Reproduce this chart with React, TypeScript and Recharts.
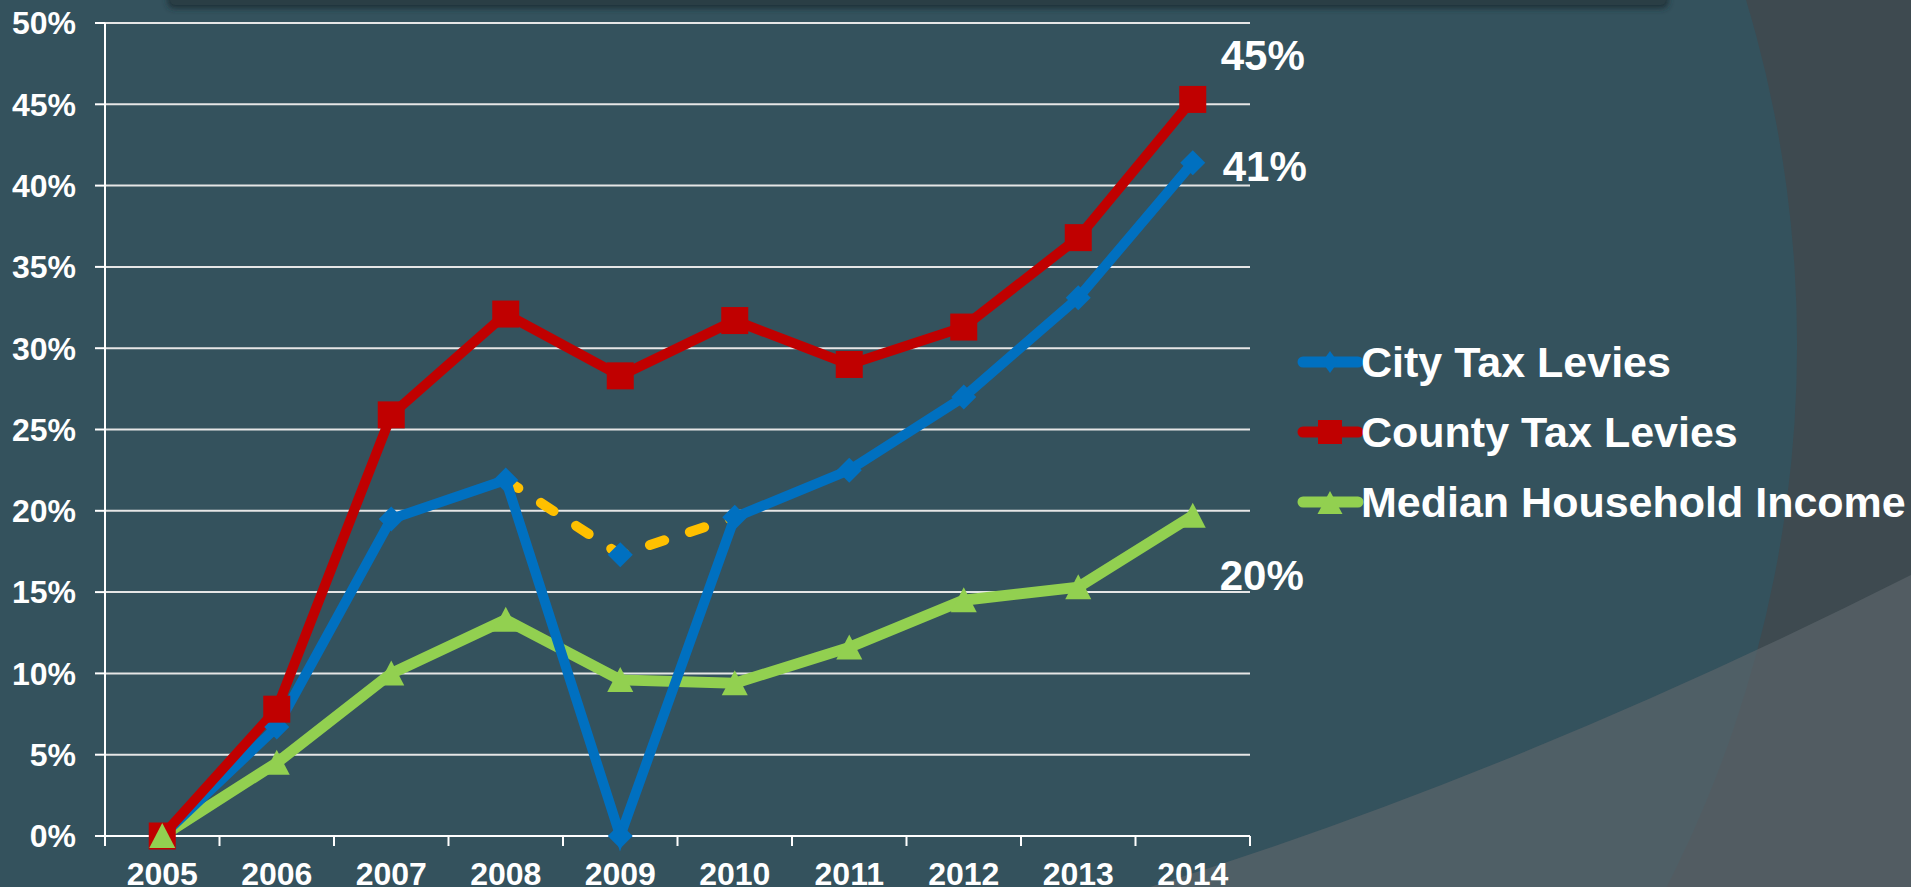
import React from "react";
import { LineChart, Line, XAxis, YAxis, CartesianGrid, Legend, LabelList } from "recharts";

const years = ["2005", "2006", "2007", "2008", "2009", "2010", "2011", "2012", "2013", "2014"];
const cityTax = [0, 6.7, 19.5, 21.9, 0, 19.6, 22.5, 27.0, 33.1, 41.4];
const countyTax = [0, 7.8, 25.9, 32.1, 28.3, 31.7, 29.0, 31.3, 36.8, 45.3];
const medianIncome = [0, 4.5, 10.0, 13.3, 9.6, 9.4, 11.6, 14.5, 15.3, 19.7];
const cityAdjusted = [null, null, null, 21.9, 17.3, 19.6, null, null, null, null];
const yTicks = [0, 5, 10, 15, 20, 25, 30, 35, 40, 45, 50];
const seriesNames = ["City Tax Levies", "County Tax Levies", "Median Household Income"];

const W = 1911;
const H = 887;
const TOP = 23;
const X_AXIS_H = 51;
const Y_AXIS_W = 105;
const RIGHT = 661;
const PLOT_BOTTOM = H - X_AXIS_H;
const BAND = (W - RIGHT - Y_AXIS_W) / years.length;

const BLUE = "#0070C0";
const RED = "#C00000";
const GREEN = "#92D050";
const YELLOW = "#FFC000";
const FONT = "'Liberation Sans', Arial, Helvetica, sans-serif";

const rows = years.map((year, i) => ({
  year,
  city: cityTax[i],
  county: countyTax[i],
  median: medianIncome[i],
  adjusted: cityAdjusted[i],
}));

function diamond(cx: number, cy: number, hw: number, hh: number, fill: string, key?: any) {
  return <path key={key} d={`M${cx},${cy - hh}L${cx + hw},${cy}L${cx},${cy + hh}L${cx - hw},${cy}Z`} fill={fill} />;
}
function square(cx: number, cy: number, s: number, fill: string, key?: any) {
  return <rect key={key} x={cx - s / 2} y={cy - s / 2} width={s} height={s} fill={fill} />;
}
function triangle(cx: number, cy: number, w: number, up: number, down: number, fill: string, key?: any) {
  return <path key={key} d={`M${cx},${cy - up}L${cx + w / 2},${cy + down}L${cx - w / 2},${cy + down}Z`} fill={fill} />;
}

const cityDot = (p: any) => (p.cy == null ? <g key={p.index} /> : diamond(p.cx, p.cy, 12.5, 12.5, BLUE, p.index));
const countyDot = (p: any) => (p.cy == null ? <g key={p.index} /> : square(p.cx, p.cy, 27, RED, p.index));
const medianDot = (p: any) => (p.cy == null ? <g key={p.index} /> : triangle(p.cx, p.cy, 26, 13, 12, GREEN, p.index));
// only the 2009 point of the adjusted segment carries a marker
const adjustedDot = (p: any) =>
  p.cy == null || p.index !== 4 ? <g key={p.index} /> : diamond(p.cx, p.cy, 12.5, 12.5, BLUE, p.index);

function XTick(props: any) {
  const { x, payload, index } = props;
  const half = BAND / 2;
  return (
    <g>
      <line x1={x - half} x2={x - half} y1={PLOT_BOTTOM} y2={PLOT_BOTTOM + 10} stroke="#fff" strokeWidth={2} />
      {index === years.length - 1 && (
        <line x1={x + half} x2={x + half} y1={PLOT_BOTTOM} y2={PLOT_BOTTOM + 10} stroke="#fff" strokeWidth={2} />
      )}
      <text x={x} y={PLOT_BOTTOM + 49} textAnchor="middle" fill="#fff" fontSize={32} fontWeight="bold" fontFamily={FONT}>
        {payload.value}
      </text>
    </g>
  );
}

const endLabel = (dx: number, dy: number) => (props: any) => {
  const { x, y, value, index } = props;
  if (index !== years.length - 1) return null;
  return (
    <text x={x + dx} y={y + dy} fill="#fff" fontSize={42} fontWeight="bold" fontFamily={FONT}>
      {`${Math.round(value)}%`}
    </text>
  );
};

function LegendBox() {
  const colors = [BLUE, RED, GREEN];
  return (
    <svg width={630} height={210}>
      {seriesNames.map((name, i) => {
        const cy = 35 + i * 70;
        return (
          <g key={name}>
            <line x1={8} x2={63} y1={cy} y2={cy} stroke={colors[i]} strokeWidth={11} strokeLinecap="round" />
            {i === 0 && diamond(35, cy, 8, 11, BLUE)}
            {i === 1 && square(35, cy, 24, RED)}
            {i === 2 && triangle(35, cy, 25, 11, 12, GREEN)}
            <text x={66} y={cy + 15} fill="#fff" fontSize={43} fontWeight="bold" fontFamily={FONT}>
              {name}
            </text>
          </g>
        );
      })}
    </svg>
  );
}

function Backdrop() {
  return (
    <svg width={W} height={H} style={{ position: "absolute", left: 0, top: 0 }}>
      <defs>
        <clipPath id="outside">
          <path d={`M0,0H${W}V${H}H0Z M605,-847 A1192,1192 0 1 0 605.1,-847 Z`} clipRule="evenodd" />
        </clipPath>
        <filter id="sh" x="-5%" y="-200%" width="110%" height="500%">
          <feGaussianBlur stdDeviation="3" />
        </filter>
      </defs>
      <rect width={W} height={H} fill="#34525D" />
      <rect width={W} height={H} fill="#3E4A50" clipPath="url(#outside)" />
      <path d={`M1150,887 Q1520,772 1911,575 L1911,887 Z`} fill="#5A646A" opacity={0.72} />
      <rect x={168} y={-14} width={1500} height={22} rx={6} fill="#1E2F35" filter="url(#sh)" />
      <rect x={170} y={-14} width={1496} height={19} rx={5} fill="#2A3E45" />
    </svg>
  );
}

export default function App() {
  return (
    <div style={{ position: "absolute", left: 0, top: 0, width: W, height: H, overflow: "hidden" }}>
      <Backdrop />
      <div style={{ position: "absolute", left: 0, top: 0 }}>
        <LineChart width={W} height={H} data={rows} margin={{ top: TOP, right: RIGHT, bottom: 0, left: 0 }}>
          <CartesianGrid horizontal vertical={false} stroke="#E6E6E6" strokeWidth={2} />
          <XAxis
            dataKey="year"
            height={X_AXIS_H}
            padding={{ left: BAND / 2, right: BAND / 2 }}
            axisLine={{ stroke: "#fff", strokeWidth: 2 }}
            tickLine={false}
            interval={0}
            tick={<XTick />}
          />
          <YAxis
            domain={[0, 50]}
            ticks={yTicks}
            width={Y_AXIS_W}
            tickFormatter={(v) => `${v}%`}
            axisLine={{ stroke: "#fff", strokeWidth: 2 }}
            tickLine={{ stroke: "#fff", strokeWidth: 2 }}
            tickSize={10}
            tickMargin={19}
            tick={{ fill: "#fff", fontSize: 32, fontWeight: "bold", fontFamily: FONT }}
          />
          <Legend
            layout="vertical"
            align="center"
            verticalAlign="middle"
            content={() => <LegendBox />}
            wrapperStyle={{ position: "absolute", left: 1295, top: 327, width: 630, height: 210 }}
          />
          <Line dataKey="median" name={seriesNames[2]} stroke={GREEN} strokeWidth={11} dot={false} isAnimationActive={false}>
            <LabelList dataKey="median" content={endLabel(27, 74)} />
          </Line>
          <Line
            dataKey="adjusted"
            stroke={YELLOW}
            strokeWidth={10}
            strokeDasharray="15 27"
            strokeLinecap="round"
            dot={adjustedDot}
            legendType="none"
            isAnimationActive={false}
          />
          <Line dataKey="city" name={seriesNames[0]} stroke={BLUE} strokeWidth={10} dot={cityDot} isAnimationActive={false}>
            <LabelList dataKey="city" content={endLabel(30, 18)} />
          </Line>
          <Line dataKey="county" name={seriesNames[1]} stroke={RED} strokeWidth={10} dot={countyDot} isAnimationActive={false}>
            <LabelList dataKey="county" content={endLabel(28, -29)} />
          </Line>
          <Line dataKey="median" stroke="none" dot={medianDot} legendType="none" isAnimationActive={false} />
        </LineChart>
      </div>
    </div>
  );
}
